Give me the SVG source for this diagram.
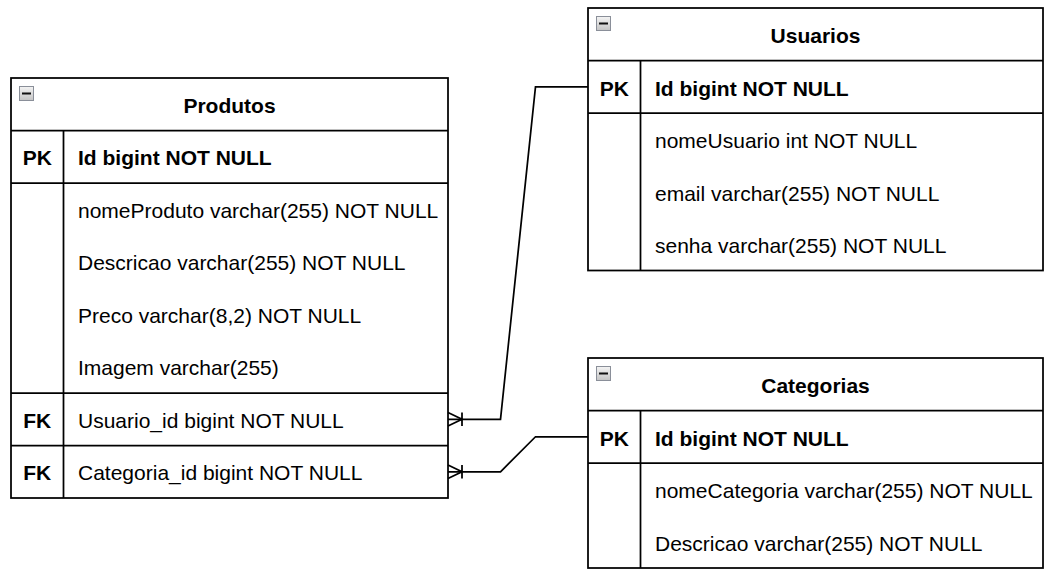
<svg xmlns="http://www.w3.org/2000/svg" width="1055" height="578" viewBox="0 0 1055 578">
<defs>
<linearGradient id="ig" x1="0" y1="0" x2="0" y2="1">
<stop offset="0" stop-color="#f4f4f4"/>
<stop offset="1" stop-color="#c4c4c4"/>
</linearGradient>
<g id="icon">
<rect x="0.5" y="0.5" width="14" height="14" fill="url(#ig)" stroke="#8a8f99" stroke-width="1"/>
<rect x="3" y="6.5" width="9" height="2" fill="#111"/>
</g>
</defs>
<style>
.box{fill:#ffffff;stroke:#000000;stroke-width:1.75}
.ln{stroke:#000000;stroke-width:1.75;fill:none}
.t{font-family:"Liberation Sans",Arial,sans-serif;font-size:21px;fill:#000000}
.b{font-weight:bold}
.c{text-anchor:middle}
.edge{stroke:#000000;stroke-width:1.75;fill:none;stroke-linejoin:miter}
</style>

<g id="produtos">
<rect class="box" x="11" y="78" width="437" height="420"/>
<line class="ln" x1="11" y1="130.5" x2="448" y2="130.5"/>
<line class="ln" x1="11" y1="183" x2="448" y2="183"/>
<line class="ln" x1="11" y1="393" x2="448" y2="393"/>
<line class="ln" x1="11" y1="445.5" x2="448" y2="445.5"/>
<line class="ln" x1="63.5" y1="130.5" x2="63.5" y2="498"/>
<use href="#icon" x="19" y="86"/>
<text class="t b c" x="229.5" y="112.5">Produtos</text>
<text class="t b c" x="37.25" y="165">PK</text>
<text class="t b" x="78" y="165">Id bigint NOT NULL</text>
<text class="t" x="78" y="217.5">nomeProduto varchar(255) NOT NULL</text>
<text class="t" x="78" y="270">Descricao varchar(255) NOT NULL</text>
<text class="t" x="78" y="322.5">Preco varchar(8,2) NOT NULL</text>
<text class="t" x="78" y="375">Imagem varchar(255)</text>
<text class="t b c" x="37.25" y="427.5">FK</text>
<text class="t" x="78" y="427.5">Usuario_id bigint NOT NULL</text>
<text class="t b c" x="37.25" y="480">FK</text>
<text class="t" x="78" y="480">Categoria_id bigint NOT NULL</text>
</g>

<g id="usuarios">
<rect class="box" x="588" y="8" width="455" height="262.5"/>
<line class="ln" x1="588" y1="60.5" x2="1043" y2="60.5"/>
<line class="ln" x1="588" y1="113" x2="1043" y2="113"/>
<line class="ln" x1="640.5" y1="60.5" x2="640.5" y2="270.5"/>
<use href="#icon" x="596" y="16"/>
<text class="t b c" x="815.5" y="42.5">Usuarios</text>
<text class="t b c" x="614.25" y="95.5">PK</text>
<text class="t b" x="655" y="95.5">Id bigint NOT NULL</text>
<text class="t" x="655" y="148">nomeUsuario int NOT NULL</text>
<text class="t" x="655" y="200.5">email varchar(255) NOT NULL</text>
<text class="t" x="655" y="253">senha varchar(255) NOT NULL</text>
</g>

<g id="categorias">
<rect class="box" x="588" y="358" width="455" height="210"/>
<line class="ln" x1="588" y1="410.5" x2="1043" y2="410.5"/>
<line class="ln" x1="588" y1="463" x2="1043" y2="463"/>
<line class="ln" x1="640.5" y1="410.5" x2="640.5" y2="568"/>
<use href="#icon" x="596" y="366"/>
<text class="t b c" x="815.5" y="392.5">Categorias</text>
<text class="t b c" x="614.25" y="445.5">PK</text>
<text class="t b" x="655" y="445.5">Id bigint NOT NULL</text>
<text class="t" x="655" y="498">nomeCategoria varchar(255) NOT NULL</text>
<text class="t" x="655" y="550.5">Descricao varchar(255) NOT NULL</text>
</g>

<g id="connectors">
<path class="edge" d="M448,419.25 L500.5,419.25 L535.5,86.75 L588,86.75"/>
<path class="edge" d="M448,412.5 L462,419.25 L448,426 M462,412.5 L462,426"/>
<path class="edge" d="M448,471.75 L500.5,471.75 L535.5,436.75 L588,436.75"/>
<path class="edge" d="M448,465 L462,471.75 L448,478.5 M462,465 L462,478.5"/>
</g>
</svg>
